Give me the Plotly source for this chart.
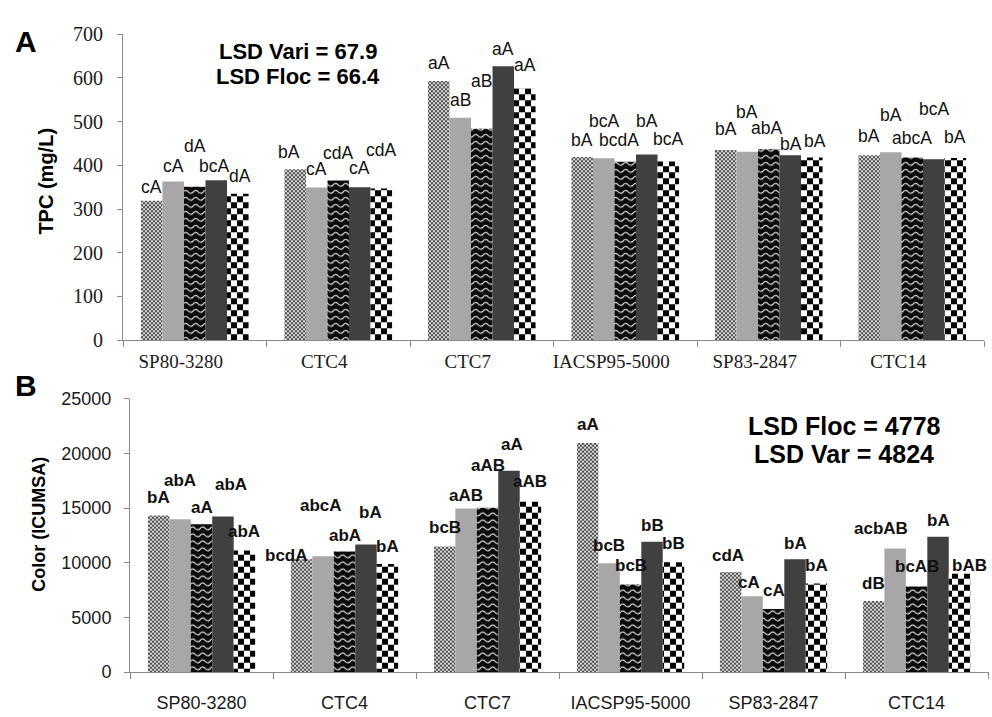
import plotly.graph_objects as go

# ---------------------------------------------------------------- data
varieties = ["SP80-3280", "CTC4", "CTC7", "IACSP95-5000", "SP83-2847", "CTC14"]
treatments = ["T1", "T2", "T3", "T4", "T5"]

# Total phenolic compounds (mg/L), one list per treatment
tpc_t1 = [319, 391, 593, 419, 435, 423]
tpc_t2 = [363, 349, 509, 416, 431, 430]
tpc_t3 = [351, 365, 484, 408, 437, 418]
tpc_t4 = [366, 350, 627, 425, 423, 414]
tpc_t5 = [335, 347, 576, 409, 418, 417]

tpc_let_t1 = ["cA", "bA", "aA", "bA", "bA", "bA"]
tpc_let_t2 = ["cA", "cA", "aB", "bcA", "bA", "bA"]
tpc_let_t3 = ["dA", "cdA", "aB", "bcdA", "abA", "abcA"]
tpc_let_t4 = ["bcA", "cA", "aA", "bA", "bA", "bcA"]
tpc_let_t5 = ["dA", "cdA", "aA", "bcA", "bA", "bA"]

# Colour (ICUMSA), one list per treatment
col_t1 = [14320, 10320, 11480, 20950, 9160, 6500]
col_t2 = [13970, 10590, 14950, 9960, 6940, 11300]
col_t3 = [13520, 11030, 15040, 8010, 5780, 7830]
col_t4 = [14240, 11660, 18420, 11920, 10320, 12370]
col_t5 = [11120, 9880, 15570, 10050, 8100, 8990]

col_let_t1 = ["bA", "bcdA", "bcB", "aA", "cdA", "dB"]
col_let_t2 = ["abA", "abcA", "aAB", "bcB", "cA", "acbAB"]
col_let_t3 = ["aA", "abA", "aAB", "bcB", "cA", "bcAB"]
col_let_t4 = ["abA", "bA", "aA", "bB", "bA", "bA"]
col_let_t5 = ["abA", "bA", "aAB", "bB", "bA", "bAB"]

tpc_series = [tpc_t1, tpc_t2, tpc_t3, tpc_t4, tpc_t5]
tpc_letters = [tpc_let_t1, tpc_let_t2, tpc_let_t3, tpc_let_t4, tpc_let_t5]
col_series = [col_t1, col_t2, col_t3, col_t4, col_t5]
col_letters = [col_let_t1, col_let_t2, col_let_t3, col_let_t4, col_let_t5]

# ---------------------------------------------------------------- styling
W, H = 992, 717
SANS = "Liberation Sans, Arial, sans-serif"
SERIF = "Liberation Serif, Times New Roman, serif"
AXIS_GREY = "#8a8a8a"
TEXT = "#1a1a1a"

base_colors = ["#9a9a9a", "#a8a6a6", "#101010", "#404040", "#ffffff"]

# label placement: pixel lift of each letter group above its bar top
tpc_lift = [[14, 17, 18, 17, 21, 19],
            [15, 19, 18, 37, 40, 37],
            [41, 28, 48, 22, 21, 19],
            [14, 19, 17, 33, 11, 50],
            [18, 38, 23, 22, 16, 21]]
tpc_nudge = [[0, -6, 0, 0, 0, 0],
             [0, 0, 0, 0, 0, 0],
             [0, 0, 0, -6, -2, 0],
             [-2, 0, 0, 0, 1, 0],
             [2, 0, 0, 0, 3, 0]]
col_lift = [[18, 4, 19, 19, 16, 18],
            [39, 51, 13, 18, 14, 20],
            [17, 16, 42, 19, 18, 20],
            [32, 32, 26, 16, 16, 16],
            [19, 18, 20, 19, 18, 8]]
col_nudge = [[0, -15, 0, 0, -3, 0],
             [0, -2, 0, 0, -3, -14],
             [0, 0, 0, 0, 0, 0],
             [8, 5, 3, 0, 0, 0],
             [0, 0, 0, 0, 0, 10]]

BAR_STEP = 0.15   # width of one bar in category units (0.75 group / 5 bars)


def px_x(p):
    return p / W


def px_y(p):
    return 1 - p / H


def note(x, y, text, size, angle=0):
    return dict(x=px_x(x), y=px_y(y), xref="paper", yref="paper", text=text,
                textangle=angle, showarrow=False, xanchor="center",
                yanchor="middle", font=dict(family=SANS, size=size, color="#000"))


fig = go.Figure()

for i, name in enumerate(treatments):
    fig.add_trace(go.Bar(
        x=varieties, y=tpc_series[i], name=name, xaxis="x", yaxis="y",
        marker=dict(color=base_colors[i], line=dict(width=0)),
        showlegend=False, hoverinfo="skip"))
for i, name in enumerate(treatments):
    fig.add_trace(go.Bar(
        x=varieties, y=col_series[i], name=name, xaxis="x2", yaxis="y2",
        marker=dict(color=base_colors[i], line=dict(width=0)),
        showlegend=False, hoverinfo="skip"))

annotations = []
for i in range(5):
    for k in range(len(varieties)):
        annotations.append(dict(
            x=k + (i - 2) * BAR_STEP, y=tpc_series[i][k], xref="x", yref="y",
            text=tpc_letters[i][k], showarrow=False,
            xanchor="center", yanchor="middle",
            yshift=tpc_lift[i][k], xshift=tpc_nudge[i][k],
            font=dict(family=SANS, size=17.5, color="#111111")))
        annotations.append(dict(
            x=k + (i - 2) * BAR_STEP, y=col_series[i][k], xref="x2", yref="y2",
            text="<b>%s</b>" % col_letters[i][k], showarrow=False,
            xanchor="center", yanchor="middle",
            yshift=col_lift[i][k], xshift=col_nudge[i][k],
            font=dict(family=SANS, size=17, color="#111111")))

# panel letters, axis titles and LSD notes
annotations += [
    note(26, 31, "<b>A</b>", 30),
    note(26, 386, "<b>B</b>", 30),
    note(46, 176, "<b>TPC (mg/L)</b>", 20, -90),
    note(39, 530, "<b>Color (ICUMSA)</b>", 18, -90),
    note(298, 42, "<b>LSD Vari = 67.9</b>", 22),
    note(298, 68, "<b>LSD Floc = 66.4</b>", 22),
    note(844, 428, "<b>LSD Floc = 4778</b>", 25),
    note(844, 457, "<b>LSD Var = 4824</b>", 25),
]

common_x = dict(type="category", showline=True, linecolor=AXIS_GREY, linewidth=1,
                ticks="outside", tickson="boundaries", ticklen=6,
                tickcolor=AXIS_GREY, showgrid=False, zeroline=False,
                fixedrange=True)
common_y = dict(showline=True, linecolor=AXIS_GREY, linewidth=1,
                ticks="outside", ticklen=5, tickcolor=AXIS_GREY,
                showgrid=False, zeroline=False, fixedrange=True,
                tickformat="d")

fig.update_layout(
    width=W, height=H,
    margin=dict(l=0, r=0, t=0, b=0),
    paper_bgcolor="white", plot_bgcolor="white",
    barmode="group", bargap=0.25, bargroupgap=0,
    xaxis=dict(common_x, domain=[px_x(123), px_x(984)], anchor="y",
               tickfont=dict(family=SERIF, size=19, color=TEXT),
               ticklabelshift=-14, ticklabelstandoff=4),
    yaxis=dict(common_y, domain=[px_y(339.5), px_y(24)], anchor="x",
               range=[0, 700], dtick=100, ticklabelstandoff=10,
               tickfont=dict(family=SERIF, size=20, color=TEXT)),
    xaxis2=dict(common_x, domain=[px_x(130), px_x(989)], anchor="y2",
                tickfont=dict(family=SANS, size=18, color=TEXT),
                ticklabelstandoff=14),
    yaxis2=dict(common_y, domain=[px_y(682), px_y(400)], anchor="x2",
                range=[0, 25000], dtick=5000, ticklabelstandoff=9,
                tickfont=dict(family=SANS, size=18, color=TEXT)),
    annotations=annotations,
)

# Texture fills for the dotted, wavy and checkered bars
texture_js = r"""
var gd = document.getElementById('{plot_id}');
var NS = 'http://www.w3.org/2000/svg';
function el(tag, attrs, parent) {
  var e = document.createElementNS(NS, tag);
  for (var k in attrs) { e.setAttribute(k, attrs[k]); }
  if (parent) { parent.appendChild(e); }
  return e;
}
function ensureDefs() {
  if (document.getElementById('tex-dots')) { return; }
  var svg = gd.querySelector('svg.main-svg');
  var defs = svg.querySelector('defs') || el('defs', {}, svg);
  var p1 = el('pattern', {id: 'tex-dots', width: 4, height: 4, patternUnits: 'userSpaceOnUse'}, defs);
  el('rect', {x: 0, y: 0, width: 4, height: 4, fill: '#d6d6d6'}, p1);
  el('rect', {x: 0, y: 0, width: 2, height: 2, fill: '#505050'}, p1);
  el('rect', {x: 2, y: 2, width: 2, height: 2, fill: '#505050'}, p1);
  var p2 = el('pattern', {id: 'tex-wave', width: 10, height: 7, patternUnits: 'userSpaceOnUse'}, defs);
  el('rect', {x: 0, y: 0, width: 10, height: 7, fill: '#0a0a0a'}, p2);
  el('path', {d: 'M-0.5,4.5 Q2.5,0.5 5,3.5 T10.5,3.5', stroke: '#ffffff', 'stroke-width': 1.1, fill: 'none'}, p2);
  var p3 = el('pattern', {id: 'tex-check', width: 12, height: 12, patternUnits: 'userSpaceOnUse'}, defs);
  el('rect', {x: 0, y: 0, width: 12, height: 12, fill: '#ffffff'}, p3);
  el('rect', {x: 0, y: 0, width: 6, height: 6, fill: '#000000'}, p3);
  el('rect', {x: 6, y: 6, width: 6, height: 6, fill: '#000000'}, p3);
}
function applyTextures() {
  ensureDefs();
  var fills = ['url(#tex-dots)', null, 'url(#tex-wave)', null, 'url(#tex-check)'];
  gd.querySelectorAll('.barlayer').forEach(function (layer) {
    layer.querySelectorAll('g.trace.bars').forEach(function (tr, i) {
      if (!fills[i]) { return; }
      tr.querySelectorAll('path').forEach(function (p) { p.style.fill = fills[i]; });
    });
  });
}
applyTextures();
gd.on('plotly_afterplot', applyTextures);
"""

fig.write_html("out.html", post_script=texture_js)
